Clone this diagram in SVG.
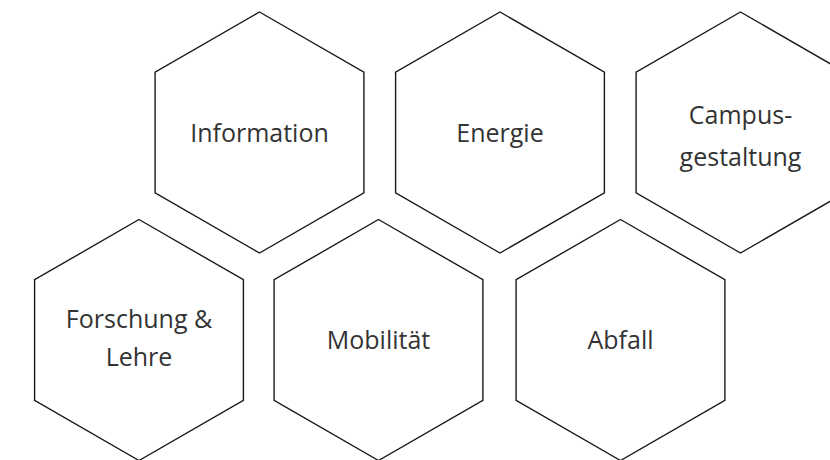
<svg xmlns="http://www.w3.org/2000/svg" xmlns:xlink="http://www.w3.org/1999/xlink" width="830" height="460" viewBox="0 0 830 460">
<style>
.hex{fill:#ffffff;stroke:#1a1a1a;stroke-width:1.4;stroke-linejoin:miter}
.lbl{font-family:"Open Sans","Noto Sans","Liberation Sans",sans-serif;font-size:25px;fill:#333333;text-anchor:middle}
</style>
<defs>
<polygon id="hex" class="hex" points="0,-120.5 104.4,-60.25 104.4,60.25 0,120.5 -104.4,60.25 -104.4,-60.25"/>
</defs>
<rect width="830" height="460" fill="#ffffff"/>
<g id="node-information" transform="translate(259.5,132.5)">
<use xlink:href="#hex" href="#hex"/>
<text class="lbl" x="0" y="9.5">Information</text>
</g>
<g id="node-energie" transform="translate(500,132.5)">
<use xlink:href="#hex" href="#hex"/>
<text class="lbl" x="0" y="9.5">Energie</text>
</g>
<g id="node-campusgestaltung" transform="translate(740.5,132.5)">
<use xlink:href="#hex" href="#hex"/>
<text class="lbl" x="0" y="-8.5">Campus-</text>
<text class="lbl" x="0" y="33">gestaltung</text>
</g>
<g id="node-forschung" transform="translate(139,340)">
<use xlink:href="#hex" href="#hex"/>
<text class="lbl" x="0" y="-11.7">Forschung &amp;</text>
<text class="lbl" x="0" y="25.7">Lehre</text>
</g>
<g id="node-mobilitaet" transform="translate(378.5,340)">
<use xlink:href="#hex" href="#hex"/>
<text class="lbl" x="0" y="9">Mobilität</text>
</g>
<g id="node-abfall" transform="translate(620.5,340)">
<use xlink:href="#hex" href="#hex"/>
<text class="lbl" x="0" y="9">Abfall</text>
</g>
<g id="connectors"/>
</svg>
